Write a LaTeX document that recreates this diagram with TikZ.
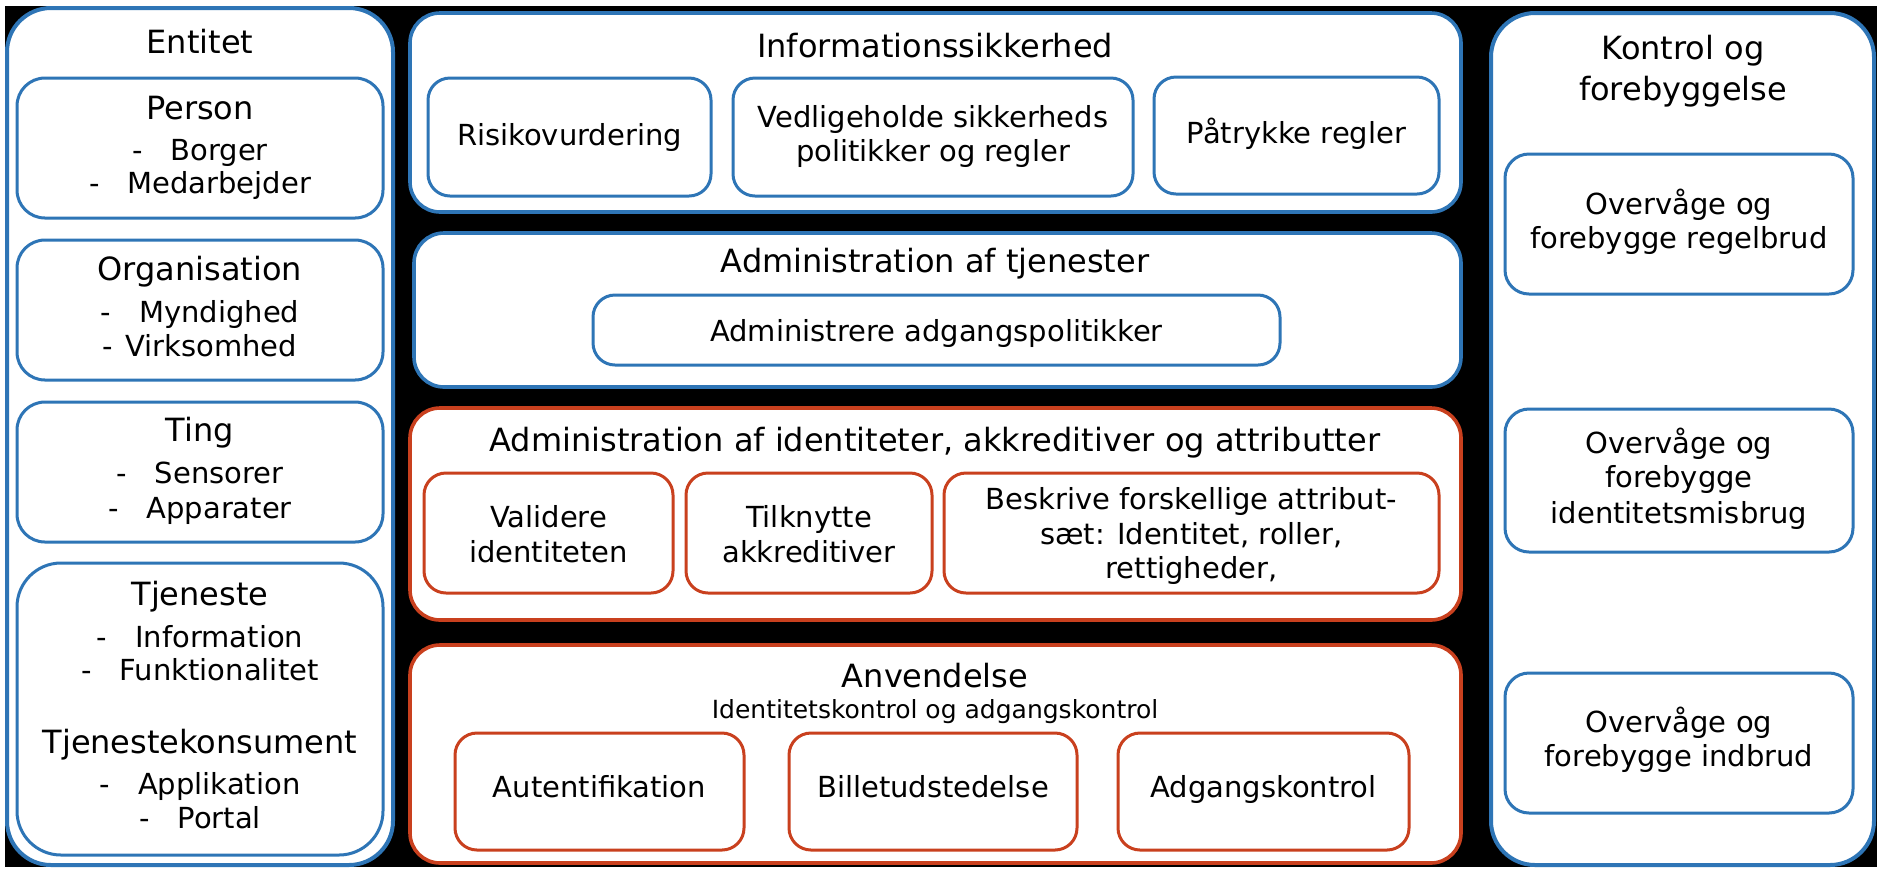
\documentclass[tikz,border=0pt]{standalone}
\usepackage{fontspec}
\setmainfont{DejaVu Sans}
\definecolor{myblue}{HTML}{2E75B6}
\definecolor{myred}{HTML}{C9401E}
\begin{document}
\begin{tikzpicture}[x=0.5pt,y=-0.5pt,
  bbox/.style={draw=myblue, line width=1.5pt, fill=white, inner sep=0pt},
  rbox/.style={draw=myred, line width=1.5pt, fill=white, inner sep=0pt},
  outer/.style={line width=2pt, rounded corners=22pt},
  mid/.style={line width=1.8pt, rounded corners=15pt},
  inner/.style={rounded corners=11pt},
  ttl/.style={font=\fontsize{16}{20}\selectfont, anchor=base, inner sep=0pt},
  itm/.style={font=\fontsize{14.5}{18}\selectfont, anchor=base, inner sep=0pt},
  sml/.style={font=\fontsize{12.5}{15}\selectfont, anchor=base, inner sep=0pt}]
\fill[white] (0,0) rectangle (1884,875);
\fill[black] (5,6) rectangle (1877,867);
\useasboundingbox (0,0) rectangle (1884,875);

% ---------- Left panel ----------
\node[bbox, outer, minimum width=193pt, minimum height=428.5pt] (L) at (200,436.5) {};
\node[ttl] (Lt) at (200,53) {Entitet};
\node[bbox, inner, rounded corners=14pt, minimum width=183pt, minimum height=70pt] (person) at (200,148) {};
\node[ttl] (persont) at (200,119) {Person};
\node[itm] (p1) at (200,160) {-\hspace{14pt}Borger};
\node[itm] (p2) at (200,193) {-\hspace{14pt}Medarbejder};
\node[bbox, inner, rounded corners=14pt, minimum width=183pt, minimum height=70pt] (org) at (200,310) {};
\node[ttl] (orgt) at (200,280) {Organisation};
\node[itm] (o1) at (200,322) {-\hspace{14pt}Myndighed};
\node[itm] (o2) at (200,356) {-\hspace{6pt}Virksomhed};
\node[bbox, inner, rounded corners=14pt, minimum width=183pt, minimum height=70pt] (ting) at (200,472) {};
\node[ttl] (tingt) at (200,441) {Ting};
\node[itm] (t1) at (200,483) {-\hspace{14pt}Sensorer};
\node[itm] (t2) at (200,518) {-\hspace{14pt}Apparater};
\node[bbox, inner, rounded corners=22pt, minimum width=183pt, minimum height=146pt] (tjen) at (200,709) {};
\node[ttl] (tjent) at (200,605) {Tjeneste};
\node[itm] (j1) at (200,647) {-\hspace{14pt}Information};
\node[itm] (j2) at (200,680) {-\hspace{14pt}Funktionalitet};
\node[ttl] (tk) at (200,753) {Tjenestekonsument};
\node[itm] (k1) at (200,794) {-\hspace{14pt}Applikation};
\node[itm] (k2) at (200,828) {-\hspace{14pt}Portal};

% ---------- Informationssikkerhed ----------
\node[bbox, mid, minimum width=525.5pt, minimum height=99.5pt] (info) at (935.5,112.5) {};
\node[ttl] (infot) at (935,57) {Informationssikkerhed};
\node[bbox, inner, minimum width=141.5pt, minimum height=59pt] (risk) at (569.5,137) {};
\node[itm] (riskt) at (569.5,145) {Risikovurdering};
\node[bbox, inner, minimum width=200pt, minimum height=59pt] (vedl) at (933,137) {};
\node[itm] (vedl1) at (933,127) {Vedligeholde sikkerheds};
\node[itm] (vedl2) at (933,161) {politikker og regler};
\node[bbox, inner, minimum width=142.5pt, minimum height=58.5pt] (patr) at (1296.5,135.5) {};
\node[itm] (patrt) at (1296.5,143) {Påtrykke regler};

% ---------- Administration af tjenester ----------
\node[bbox, mid, minimum width=523.5pt, minimum height=77pt] (admtj) at (937.5,310) {};
\node[ttl] (admtjt) at (935,272) {Administration af tjenester};
\node[bbox, inner, minimum width=343.5pt, minimum height=35pt] (admpol) at (936.5,330) {};
\node[itm] (admpolt) at (936.5,341) {Administrere adgangspolitikker};

% ---------- Administration af identiteter ----------
\node[rbox, mid, minimum width=525.5pt, minimum height=106pt] (admid) at (935.5,514) {};
\node[ttl] (admidt) at (935,451) {Administration af identiteter, akkreditiver og attributter};
\node[rbox, inner, minimum width=124.5pt, minimum height=60pt] (valid) at (548.5,533) {};
\node[itm] (valid1) at (548.5,527) {Validere};
\node[itm] (valid2) at (548.5,562) {identiteten};
\node[rbox, inner, minimum width=123pt, minimum height=60pt] (tilk) at (809,533) {};
\node[itm] (tilk1) at (809,527) {Tilknytte};
\node[itm] (tilk2) at (809,562) {akkreditiver};
\node[rbox, inner, minimum width=247.5pt, minimum height=60pt] (beskr) at (1191.5,533) {};
\node[itm] (beskr1) at (1191.5,509) {Beskrive forskellige attribut-};
\node[itm] (beskr2) at (1191.5,544) {sæt: Identitet, roller,};
\node[itm] (beskr3) at (1191.5,578) {rettigheder,};

% ---------- Anvendelse ----------
\node[rbox, mid, minimum width=525.5pt, minimum height=109pt] (anv) at (935.5,754) {};
\node[ttl] (anvt) at (935,687) {Anvendelse};
\node[sml] (anvs) at (935,718) {Identitetskontrol og adgangskontrol};
\node[rbox, inner, minimum width=144.5pt, minimum height=58.5pt] (aut) at (599.5,791.5) {};
\node[itm] (autt) at (599.5,797) {Autentifikation};
\node[rbox, inner, minimum width=144pt, minimum height=58.5pt] (bil) at (933,791.5) {};
\node[itm] (bilt) at (933,797) {Billetudstedelse};
\node[rbox, inner, minimum width=145.5pt, minimum height=58.5pt] (adg) at (1263.5,791.5) {};
\node[itm] (adgt) at (1263.5,797) {Adgangskontrol};

% ---------- Right panel ----------
\node[bbox, outer, minimum width=191.5pt, minimum height=426pt] (R) at (1682.5,439) {};
\node[ttl] (Rt1) at (1683,59) {Kontrol og};
\node[ttl] (Rt2) at (1683,100) {forebyggelse};
\node[bbox, inner, rounded corners=12pt, minimum width=174pt, minimum height=70pt] (ov1) at (1679,224) {};
\node[itm] (ov1a) at (1679,214) {Overvåge og};
\node[itm] (ov1b) at (1679,248) {forebygge regelbrud};
\node[bbox, inner, rounded corners=12pt, minimum width=174pt, minimum height=71.5pt] (ov2) at (1679,480.5) {};
\node[itm] (ov2a) at (1679,453) {Overvåge og};
\node[itm] (ov2b) at (1679,487) {forebygge};
\node[itm] (ov2c) at (1679,523) {identitetsmisbrug};
\node[bbox, inner, rounded corners=12pt, minimum width=174pt, minimum height=70pt] (ov3) at (1679,743) {};
\node[itm] (ov3a) at (1679,732) {Overvåge og};
\node[itm] (ov3b) at (1679,766) {forebygge indbrud};
\end{tikzpicture}
\end{document}
